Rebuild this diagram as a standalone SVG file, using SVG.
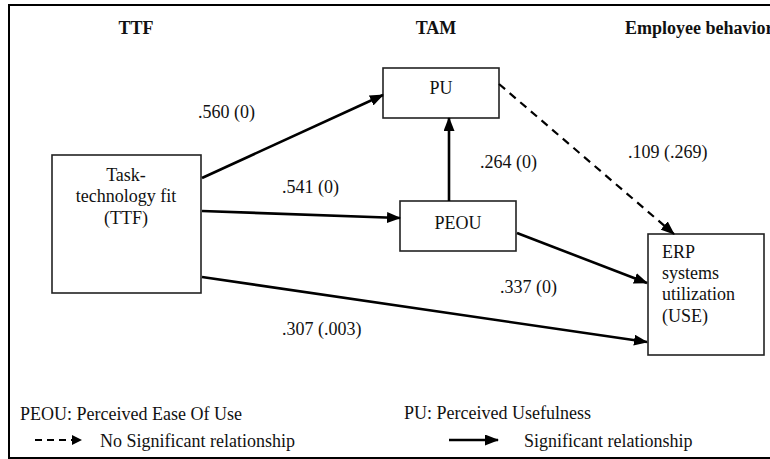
<svg xmlns="http://www.w3.org/2000/svg" width="770" height="459" viewBox="0 0 770 459">
<style>
text{font-family:"Liberation Serif","Times New Roman",serif;font-size:18px;fill:#111}
.h{font-weight:bold}
.box{fill:#fff;stroke:#222;stroke-width:1.6}
.c{fill:none;stroke:#000;stroke-width:2.6}
.d{fill:none;stroke:#000;stroke-width:2.2;stroke-dasharray:8 6}
</style>
<defs>
<marker id="ah" markerUnits="userSpaceOnUse" markerWidth="14" markerHeight="11" refX="13" refY="5.5" orient="auto">
<path d="M0,0 L14,5.5 L0,11 z" fill="#000"/>
</marker>
</defs>
<rect x="0" y="0" width="770" height="459" fill="#fff"/>
<rect x="9" y="5" width="780" height="453" fill="none" stroke="#000" stroke-width="2"/>
<text class="h" x="136" y="34" text-anchor="middle">TTF</text>
<text class="h" x="436" y="34" text-anchor="middle">TAM</text>
<text class="h" x="625" y="34">Employee behavior</text>
<g id="ttf">
<rect class="box" x="52" y="155" width="149" height="138"/>
<text x="126" y="181" text-anchor="middle">Task-</text>
<text x="126" y="202" text-anchor="middle">technology fit</text>
<text x="126" y="224" text-anchor="middle">(TTF)</text>
</g>
<g id="pu">
<rect class="box" x="383" y="68" width="116" height="50"/>
<text x="441" y="94" text-anchor="middle">PU</text>
</g>
<g id="peou">
<rect class="box" x="400" y="201" width="116" height="50"/>
<text x="458" y="229" text-anchor="middle">PEOU</text>
</g>
<g id="use">
<rect class="box" x="648" y="234" width="116" height="121"/>
<text x="662" y="258">ERP</text>
<text x="662" y="279">systems</text>
<text x="662" y="300">utilization</text>
<text x="662" y="322"> (USE)</text>
</g>
<g id="connectors">
<path class="c" d="M202,178 L383,95" marker-end="url(#ah)"/>
<path class="c" d="M202,211 L400,218" marker-end="url(#ah)"/>
<path class="c" d="M449,201 L449,118" marker-end="url(#ah)"/>
<path class="d" d="M499,84 L674,234" marker-end="url(#ah)"/>
<path class="c" d="M517,233 L647,283" marker-end="url(#ah)"/>
<path class="c" d="M202,277 L647,342" marker-end="url(#ah)"/>
<text x="198" y="118">.560 (0)</text>
<text x="282" y="193">.541 (0)</text>
<text x="480" y="168">.264 (0)</text>
<text x="628" y="158">.109 (.269)</text>
<text x="500" y="293">.337 (0)</text>
<text x="282" y="335">.307 (.003)</text>
</g>
<g id="legend">
<text x="20" y="420">PEOU: Perceived Ease Of Use</text>
<text x="404" y="419">PU: Perceived Usefulness</text>
<path d="M35,440 L72,440" fill="none" stroke="#000" stroke-width="2" stroke-dasharray="7 5"/>
<path d="M72,435 L82,440 L72,445 z" fill="#000"/>
<text x="100" y="447">No Significant relationship</text>
<path class="c" d="M449,440 L498,440" marker-end="url(#ah)"/>
<text x="524" y="447">Significant relationship</text>
</g>
</svg>
